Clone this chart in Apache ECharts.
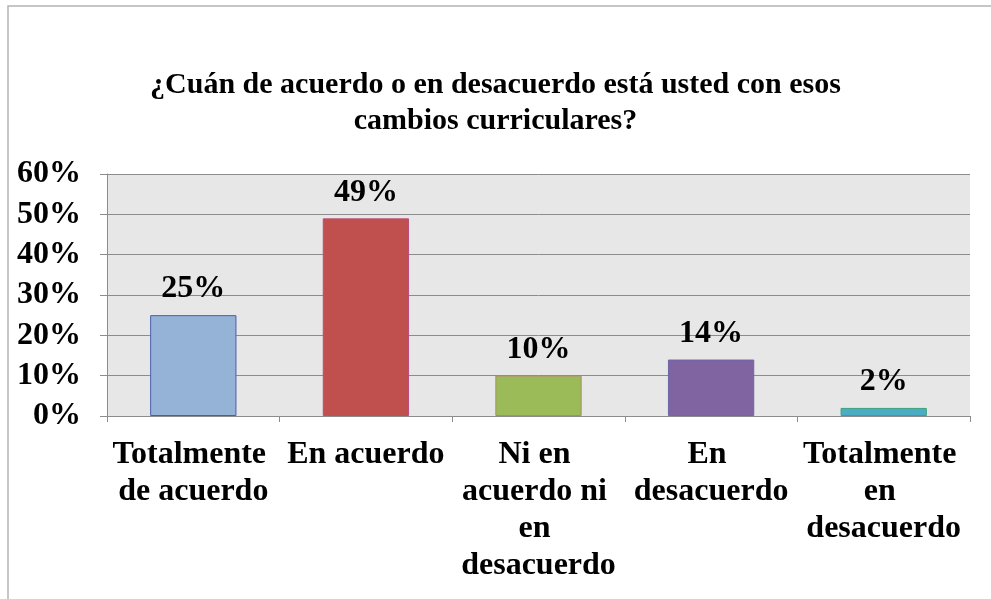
<!DOCTYPE html>
<html>
<head>
<meta charset="utf-8">
<script src="https://cdn.jsdelivr.net/npm/echarts@6/dist/echarts.min.js"></script>
<style>html,body{margin:0;padding:0;background:#fff}#c{width:991px;height:599px}</style>
</head>
<body>
<div id="c"></div>
<script>
var titleText = '¿Cuán de acuerdo o en desacuerdo está usted con esos\ncambios curriculares?';
var categories = ['Totalmente de acuerdo', 'En acuerdo', 'Ni en acuerdo ni en desacuerdo', 'En desacuerdo', 'Totalmente en desacuerdo'];
var values = [25, 49, 10, 14, 2];
var barColors = ['#95b3d7', '#c0504d', '#9bbb59', '#8064a2', '#4bacc6'];
var barBorders = ['#4a5cae', '#b84d78', '#a8905e', '#6a68a8', '#3fa27e'];
var yMin = 0, yMax = 60, yStep = 10;

var FONT = '"Liberation Serif", "Times New Roman", serif';
var chart = echarts.init(document.getElementById('c'), null, {renderer: 'canvas'});
chart.setOption({
  animation: false,
  backgroundColor: '#ffffff',
  graphic: [{
    type: 'rect', silent: true, z: -1,
    shape: {x: 8, y: 6, width: 1100, height: 800},
    style: {fill: 'none', stroke: '#b4b4b4', lineWidth: 1.5}
  }],
  title: {
    text: titleText,
    left: 'center',
    top: 67,
    padding: 0,
    textStyle: {fontFamily: FONT, fontWeight: 'bold', fontSize: 30, lineHeight: 36, color: '#000', align: 'center'}
  },
  grid: {
    left: 107, right: 21, top: 174, bottom: 183,
    show: true, backgroundColor: '#e7e7e7', borderWidth: 0
  },
  xAxis: {
    type: 'category',
    data: categories,
    axisLine: {lineStyle: {color: '#8c8c8c', width: 1}},
    axisTick: {show: true, length: 6, lineStyle: {color: '#8c8c8c'}},
    axisLabel: {
      interval: 0, margin: 20,
      fontFamily: FONT, fontWeight: 'bold', fontSize: 32, lineHeight: 37, color: '#000',
      width: 168, overflow: 'break', align: 'center'
    }
  },
  yAxis: {
    type: 'value', min: yMin, max: yMax, interval: yStep,
    axisLine: {show: true, lineStyle: {color: '#8c8c8c', width: 1}},
    axisTick: {show: true, length: 7, lineStyle: {color: '#8c8c8c'}},
    splitLine: {lineStyle: {color: '#8c8c8c', width: 1}},
    axisLabel: {
      margin: 26,
      formatter: function (v) { return v + '%'; },
      fontFamily: FONT, fontWeight: 'bold', fontSize: 32, color: '#000'
    }
  },
  series: [{
    type: 'bar',
    barCategoryGap: '50%',
    data: values.map(function (v, i) {
      return {value: v, itemStyle: {color: barColors[i], borderColor: barBorders[i], borderWidth: 1}};
    }),
    label: {
      show: true, position: 'top', distance: 10,
      formatter: function (p) { return p.value + '%'; },
      fontFamily: FONT, fontWeight: 'bold', fontSize: 32, color: '#000'
    }
  }]
});
</script>
</body>
</html>
